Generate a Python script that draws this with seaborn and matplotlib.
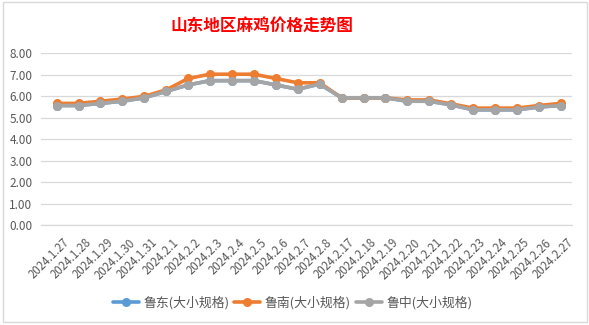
import matplotlib
matplotlib.use("Agg")
import matplotlib.pyplot as plt
import matplotlib.transforms as mtransforms
import seaborn as sns
import pandas as pd
from matplotlib.patches import Rectangle

# Dates shown on the category axis
dates = ["2024.1.27", "2024.1.28", "2024.1.29", "2024.1.30", "2024.1.31",
         "2024.2.1", "2024.2.2", "2024.2.3", "2024.2.4", "2024.2.5",
         "2024.2.6", "2024.2.7", "2024.2.8", "2024.2.17", "2024.2.18",
         "2024.2.19", "2024.2.20", "2024.2.21", "2024.2.22", "2024.2.23",
         "2024.2.24", "2024.2.25", "2024.2.26", "2024.2.27"]

# Prices (yuan/jin) per region
ludong = [5.57, 5.57, 5.67, 5.77, 5.93, 6.23, 6.53, 6.73, 6.73, 6.73,
          6.53, 6.33, 6.57, 5.93, 5.93, 5.93, 5.77, 5.77, 5.60, 5.37,
          5.37, 5.37, 5.50, 5.57]
lunan = [5.67, 5.67, 5.77, 5.87, 6.00, 6.30, 6.83, 7.03, 7.03, 7.03,
         6.83, 6.63, 6.63, 5.93, 5.93, 5.93, 5.83, 5.83, 5.65, 5.45,
         5.45, 5.45, 5.57, 5.67]
luzhong = [5.57, 5.57, 5.67, 5.77, 5.93, 6.23, 6.53, 6.73, 6.73, 6.73,
           6.53, 6.33, 6.57, 5.93, 5.93, 5.93, 5.77, 5.77, 5.60, 5.37,
           5.37, 5.37, 5.50, 5.57]

series_names = ["鲁东(大小规格)", "鲁南(大小规格)", "鲁中(大小规格)"]
colors = ["#5B9BD5", "#ED7D31", "#A5A5A5"]

df = pd.DataFrame({"date": dates,
                   series_names[0]: ludong,
                   series_names[1]: lunan,
                   series_names[2]: luzhong})
long_df = df.melt(id_vars="date", var_name="series", value_name="price")
long_df["pos"] = long_df["date"].map({d: i for i, d in enumerate(dates)})

sns.set_theme(style="white")
plt.rcParams["font.family"] = ["Noto Sans CJK SC", "DejaVu Sans"]

fig = plt.figure(figsize=(5.89, 3.25), dpi=100)
ax = fig.add_axes([0.069, 0.3077, 0.9017, 0.528])

sns.lineplot(data=long_df, x="pos", y="price", hue="series",
             hue_order=series_names, palette=colors, marker="o",
             markersize=6.5, markeredgewidth=0, linewidth=2.6,
             sort=False, ax=ax, legend=True)

ax.set_xlim(-0.73, 23.5)
ax.set_ylim(0, 8)
ax.set_yticks([0, 1, 2, 3, 4, 5, 6, 7, 8])
ax.set_yticklabels([f"{v:.2f}" for v in range(9)], fontsize=8.5, color="#595959")
ax.set_xticks(range(len(dates)))
ax.set_xticklabels(dates, rotation=45, ha="right", rotation_mode="anchor",
                   fontsize=8.3, color="#595959")
ax.tick_params(axis="both", length=0)
ax.tick_params(axis="y", pad=6)
ax.tick_params(axis="x", pad=8)
shift = mtransforms.ScaledTranslation(6 / 100, 0, fig.dpi_scale_trans)
for lbl in ax.get_xticklabels():
    lbl.set_transform(lbl.get_transform() + shift)
ax.grid(axis="y", color="#D9D9D9", linewidth=0.9)
ax.grid(axis="x", visible=False)
for side in ["left", "right", "top"]:
    ax.spines[side].set_visible(False)
ax.spines["bottom"].set_color("#D9D9D9")
ax.spines["bottom"].set_linewidth(0.9)
ax.set_xlabel("")
ax.set_ylabel("")

handles, labels = ax.get_legend_handles_labels()
ax.legend(handles, labels, loc="center", bbox_to_anchor=(0.497, 22 / 325),
          bbox_transform=fig.transFigure, ncol=3, frameon=False,
          fontsize=9.3, labelcolor="#595959", handlelength=2.0,
          handletextpad=0.35, columnspacing=0.4)

fig.text(0.444, 0.922, "山东地区麻鸡价格走势图", ha="center", va="center",
         fontsize=12, fontweight="bold", color="#FF0000")

# Chart frame
fig.patches.append(Rectangle((3 / 589, 3 / 325), 584 / 589, 320 / 325,
                             transform=fig.transFigure, fill=False,
                             edgecolor="#D9D9D9", linewidth=1))

fig.savefig("out.png", dpi=100)
